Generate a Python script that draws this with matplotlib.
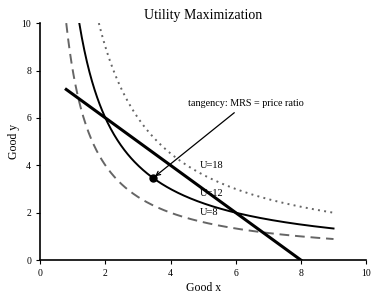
import numpy as np
import matplotlib.pyplot as plt

plt.rcParams['font.family'] = 'Liberation Serif'

# utility levels and their styles
levels = [8, 12, 18]
level_labels = ['U=8', 'U=12', 'U=18']
label_y = [2.0, 2.8, 4.0]
label_x = 4.9

# budget line endpoints
budget_x = [0.8, 8.0]
budget_y = [7.2, 0.0]

# chosen bundle
opt_x = 3.46
opt_y = 3.46

fig = plt.figure(figsize=(3.79, 3.0), dpi=100)
ax = fig.add_axes([0.106, 0.133, 0.86, 0.79])

styles = {8: dict(color='#666666', ls=(0, (5, 3)), lw=1.4),
          12: dict(color='black', ls='-', lw=1.4),
          18: dict(color='#666666', ls=(0, (1, 2.2)), lw=1.4)}

for u in levels:
    xs = np.linspace(u / 10, 9, 300)
    ax.plot(xs, u / xs, **styles[u])

ax.plot(budget_x, budget_y, color='black', lw=2.2)
ax.plot(opt_x, opt_y, 'o', color='black', ms=5)

for lab, ly in zip(level_labels, label_y):
    ax.text(label_x, ly, lab, fontsize=7.5, va='center', ha='left')

ax.annotate('tangency: MRS = price ratio', xy=(opt_x, opt_y), xytext=(6.3, 6.6),
            ha='center', va='center', fontsize=7.3,
            arrowprops=dict(arrowstyle='->', color='black', lw=0.9))

ax.set_xlim(0, 10)
ax.set_ylim(0, 10)
ax.set_xticks([0, 2, 4, 6, 8, 10])
ax.set_yticks([0, 2, 4, 6, 8, 10])
ax.tick_params(labelsize=7, length=3)
for s in ['top', 'right']:
    ax.spines[s].set_visible(False)
for s in ['left', 'bottom']:
    ax.spines[s].set_linewidth(1.2)

ax.set_xlabel('Good x', fontsize=8.5, labelpad=3)
ax.set_ylabel('Good y', fontsize=8.5, labelpad=1)
ax.set_title('Utility Maximization', fontsize=10, pad=3)

fig.savefig('out.png', dpi=100)
